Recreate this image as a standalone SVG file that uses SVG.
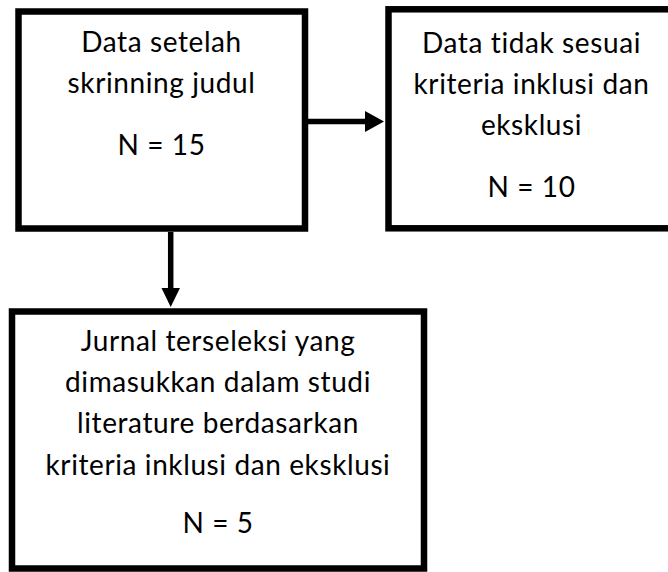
<svg xmlns="http://www.w3.org/2000/svg" width="668" height="572" viewBox="0 0 668 572">
<style>
.box{fill:#fff;stroke:#000;stroke-width:6.5}
.t{font-family:Lato,"Liberation Sans",sans-serif;font-size:28px;letter-spacing:0.6px;fill:#000;text-anchor:middle}
.c{stroke:#000;stroke-width:5.5;fill:none}
</style>
<rect width="668" height="572" fill="#fff"/>
<g id="n1">
<rect class="box" x="18.5" y="11.5" width="286.5" height="217"/>
<text class="t" x="161.5" y="52">Data setelah</text>
<text class="t" x="161.5" y="93">skrinning judul</text>
<text class="t" x="161.5" y="155">N = 15</text>
</g>
<g id="n2">
<rect class="box" x="388.5" y="9.3" width="286" height="219"/>
<text class="t" x="531.5" y="53">Data tidak sesuai</text>
<text class="t" x="531.5" y="94">kriteria inklusi dan</text>
<text class="t" x="531.5" y="135">eksklusi</text>
<text class="t" x="531.5" y="197">N = 10</text>
</g>
<g id="n3">
<rect class="box" x="12" y="311.5" width="412" height="257"/>
<text class="t" x="218" y="351">Jurnal terseleksi yang</text>
<text class="t" x="218" y="392">dimasukkan dalam studi</text>
<text class="t" x="218" y="433">literature berdasarkan</text>
<text class="t" x="218" y="475">kriteria inklusi dan eksklusi</text>
<text class="t" x="218" y="533">N = 5</text>
</g>
<g id="connectors">
<line class="c" x1="308" y1="121.5" x2="366" y2="121.5"/>
<polygon points="365,111 384,121.5 365,132"/>
<line class="c" x1="170.7" y1="232" x2="170.7" y2="290"/>
<polygon points="161.5,288 180,288 170.7,307"/>
</g>
</svg>
